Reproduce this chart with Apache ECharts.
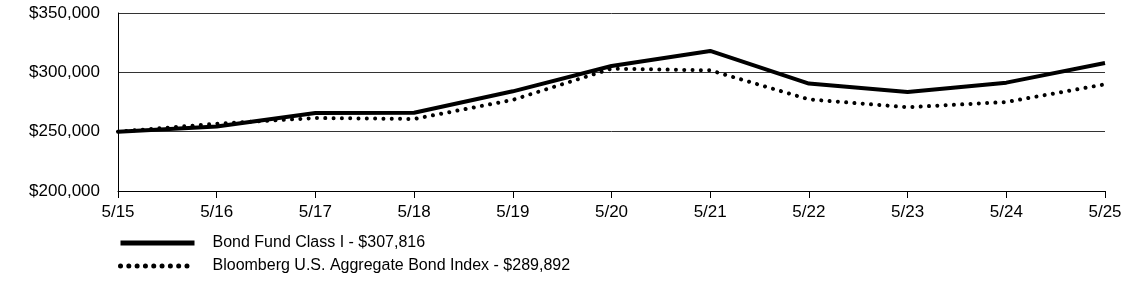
<!DOCTYPE html>
<html>
<head>
<meta charset="utf-8">
<script src="https://cdn.jsdelivr.net/npm/echarts@6/dist/echarts.min.js"></script>
<style>
  html, body { margin: 0; padding: 0; background: #fff; }
  #chart { width: 1129px; height: 281px; }
</style>
</head>
<body>
<div id="chart"></div>
<script>
// growth of a $250,000 investment
const years = ["5/15", "5/16", "5/17", "5/18", "5/19", "5/20", "5/21", "5/22", "5/23", "5/24", "5/25"]
const fundName = "Bond Fund Class I - $307,816"
const fundValues = [250000, 254400, 265800, 266000, 284000, 305300, 318000, 290500, 283400, 291300, 307816]
const indexName = "Bloomberg U.S. Aggregate Bond Index - $289,892"
const indexValues = [250000, 256700, 261500, 260700, 276800, 303100, 301700, 277200, 270600, 275000, 289892]

const font = "Liberation Sans, Arial, sans-serif"
const solidLine = { color: "#000", width: 4, join: "round" }
const dottedLine = { color: "#000", width: 4, type: [0.01, 8.3], cap: "round" }

function legendRow(name, top, line) {
  return {
    left: 118,
    top: top,
    padding: 0,
    itemWidth: 74,
    itemHeight: 14,
    itemStyle: { opacity: 0 },
    lineStyle: Object.assign({}, line, { width: 5 }),
    textStyle: {
      fontFamily: font,
      fontSize: 16,
      color: "#000",
      padding: [0, 0, 0, 13],
    },
    data: [name],
  }
}

let myChart = echarts.init(document.getElementById("chart"))
myChart.setOption({
  animation: false,
  grid: {
    left: 118,
    right: 24,
    top: 13,
    bottom: 90,
  },
  legend: [legendRow(fundName, 235, solidLine), legendRow(indexName, 258, dottedLine)],
  xAxis: {
    type: "category",
    data: years,
    boundaryGap: false,
    axisLine: { lineStyle: { color: "#000", width: 1 } },
    axisTick: { show: true, length: 7, lineStyle: { color: "#000" } },
    axisLabel: {
      margin: 13,
      fontFamily: font,
      fontSize: 17,
      color: "#000",
    },
  },
  yAxis: {
    type: "value",
    min: 200000,
    max: 350000,
    interval: 50000,
    axisLine: { show: true, lineStyle: { color: "#000", width: 1 } },
    axisTick: { show: false },
    splitLine: { lineStyle: { color: "#333", width: 1 } },
    axisLabel: {
      margin: 18,
      fontFamily: font,
      fontSize: 17,
      color: "#000",
      formatter: (v) => "$" + v.toLocaleString("en-US"),
    },
  },
  series: [
    {
      name: fundName,
      type: "line",
      data: fundValues,
      showSymbol: false,
      symbol: "none",
      lineStyle: solidLine,
      itemStyle: { color: "#000" },
    },
    {
      name: indexName,
      type: "line",
      data: indexValues,
      showSymbol: false,
      symbol: "none",
      lineStyle: dottedLine,
      itemStyle: { color: "#000" },
    },
  ],
})
</script>
</body>
</html>
